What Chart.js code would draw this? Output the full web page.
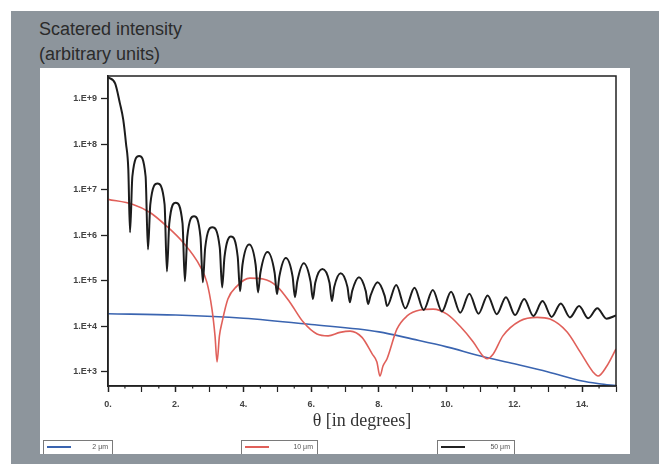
<!DOCTYPE html>
<html>
<head>
<meta charset="utf-8">
<script src="https://cdn.jsdelivr.net/npm/chart.js@4.4.1/dist/chart.umd.min.js"></script>
<style>
  html, body { margin: 0; padding: 0; background: #fff; }
  body { width: 659px; height: 464px; position: relative; overflow: hidden; font-family: "Liberation Sans", Arial, sans-serif; }
  #frame { position: absolute; left: 11px; top: 11px; right: 0; bottom: 0; background: #8d959c; }
  #panel { position: absolute; left: 40px; top: 68px; width: 590px; height: 386px; background: #fff; }
  #ytitle { position: absolute; left: 39px; top: 17px; font-size: 18px; line-height: 25px; color: #2b2b2b; }
  #chart { position: absolute; left: 0; top: 0; }
  #xtitle { position: absolute; left: 108px; width: 508px; top: 410px; text-align: center;
            font-family: "Liberation Serif", "DejaVu Serif", serif; font-size: 18px; line-height: 20px; color: #333; }
  .leg { position: absolute; top: 440px; height: 14px; border: 1px solid #7a7a7a; border-bottom: none;
         box-sizing: border-box; font-size: 7px; color: #555; }
  .leg i { position: absolute; left: 3px; top: 5px; width: 24px; height: 0; border-top: 2px solid; }
  .leg span { position: absolute; right: 4px; top: 2px; }
</style>
</head>
<body>
<div id="frame"></div>
<div id="panel"></div>
<div id="ytitle">Scatered intensity<br>(arbitrary units)</div>
<canvas id="chart" width="659" height="464"></canvas>
<div id="xtitle">θ [in degrees]</div>
<div class="leg" style="left:43px;width:70px"><i style="border-color:#3a64b0"></i><span>2 μm</span></div>
<div class="leg" style="left:241px;width:77px"><i style="border-color:#e0605a"></i><span>10 μm</span></div>
<div class="leg" style="left:437px;width:78px"><i style="border-color:#222"></i><span>50 μm</span></div>

<script>
// 50 um particle - many fringes
const theta50 = [0, 0.21, 0.35, 0.45, 0.53, 0.60, 0.65,
    0.72, 0.92, 1.11, 1.18, 1.25, 1.46, 1.67, 1.74, 1.81, 2.00, 2.20, 2.27,
    2.34, 2.54, 2.73, 2.80, 2.87, 3.08, 3.30, 3.37, 3.44, 3.63, 3.83, 3.90,
    3.97, 4.17, 4.36, 4.43, 4.50, 4.71, 4.92, 4.99, 5.06, 5.25, 5.45, 5.52,
    5.59, 5.78, 5.98, 6.05, 6.12, 6.33, 6.54, 6.61, 6.68, 6.87, 7.07, 7.14,
    7.21, 7.41, 7.61, 7.68, 7.75, 7.96, 8.17, 8.24,
    8.51, 8.78, 9.05, 9.32, 9.59, 9.86, 10.13, 10.40, 10.67, 10.94, 11.21, 11.48,
    11.75, 12.02, 12.29, 12.56, 12.83, 13.10, 13.37, 13.64, 13.91, 14.18, 14.45, 14.72, 15.00];
const int50 = [3.0e9, 2.2e9, 8.1e8, 3.5e8, 1.07e8, 2.8e7, 1.17e6,
    2.0e7, 5.6e7, 2.0e7, 4.9e5, 4.9e6, 1.38e7, 4.9e6, 1.62e5, 1.86e6, 5.25e6, 1.86e6, 9.8e4,
    9.3e5, 2.63e6, 9.3e5, 9.3e4, 5.4e5, 1.51e6, 5.4e5, 7.2e4, 3.4e5, 9.5e5, 3.4e5, 5.9e4,
    2.24e5, 6.3e5, 2.24e5, 5.6e4, 1.51e5, 4.3e5, 1.51e5, 5.1e4, 1.26e5, 3.2e5, 1.26e5, 4.4e4,
    9.8e4, 2.45e5, 9.8e4, 4.0e4, 9.1e4, 1.82e5, 9.1e4, 3.6e4, 7.4e4, 1.48e5, 7.4e4, 3.4e4,
    6.0e4, 1.2e5, 6.0e4, 3.1e4, 4.7e4, 9.3e4, 4.7e4, 2.8e4,
    8.1e4, 2.5e4, 7.1e4, 2.3e4, 6.3e4, 2.14e4, 5.75e4, 2.0e4, 5.25e4, 1.91e4, 4.8e4, 1.86e4,
    4.4e4, 1.78e4, 4.0e4, 1.7e4, 3.6e4, 1.62e4, 3.2e4, 1.58e4, 2.8e4, 1.51e4, 2.5e4, 1.48e4, 1.74e4];

// 10 um particle
const theta10 = [0, 0.74, 1.24, 1.74, 2.21, 2.72, 2.92, 3.07, 3.16, 3.22, 3.29, 3.37,
    3.54, 3.80, 4.19, 4.58, 4.99, 5.37, 5.76, 6.17, 6.50, 6.85, 7.15, 7.50, 7.80, 7.94,
    8.03, 8.12, 8.24, 8.53, 8.83, 9.21, 9.60, 10.01, 10.39, 10.78, 11.07, 11.19, 11.37,
    11.66, 12.16, 12.67, 13.05, 13.55, 13.94, 14.32, 14.47, 14.73, 15.00];
const int10 = [6.2e6, 4.8e6, 3.2e6, 1.58e6, 7.1e5, 2.1e5, 9.3e4, 2.4e4, 6.2e3, 1.66e3, 6.2e3, 1.26e4,
    4.0e4, 7.6e4, 1.15e5, 1.1e5, 7.6e4, 3.4e4, 1.26e4, 6.8e3, 6.2e3, 7.4e3, 7.9e3, 5.75e3, 2.5e3, 1.66e3,
    8.1e2, 1.35e3, 1.95e3, 8.7e3, 1.7e4, 2.3e4, 2.4e4, 1.86e4, 1.02e4, 4.6e3, 2.24e3, 1.95e3, 2.45e3,
    6.2e3, 1.32e4, 1.58e4, 1.45e4, 7.6e3, 2.75e3, 1.0e3, 8.1e2, 1.35e3, 3.2e3];

// 2 um particle
const theta2 = [0, 2, 4, 6, 8, 9, 10, 11, 12, 13, 14, 14.5, 15];
const int2 = [1.9e4, 1.78e4, 1.51e4, 1.1e4, 7.6e3, 5.25e3, 3.55e3, 2.24e3, 1.51e3, 1.0e3, 6.3e2, 5.5e2, 5.0e2];

const yTickValues = [1e3, 1e4, 1e5, 1e6, 1e7, 1e8, 1e9];
const yTickLabels = ['1.E+3', '1.E+4', '1.E+5', '1.E+6', '1.E+7', '1.E+8', '1.E+9'];
const xMajor = [0, 2, 4, 6, 8, 10, 12, 14];
const xTickLabels = ['0.', '2.', '4.', '6.', '8.', '10.', '12.', '14.'];

const pts = (xs, ys) => xs.map((v, i) => ({ x: v, y: ys[i] }));

// frame box + small half-degree ticks
const frameBox = {
    id: 'frameBox',
    afterDraw(chart) {
        const { ctx, chartArea: a, scales: { x } } = chart;
        ctx.save();
        ctx.strokeStyle = '#222';
        ctx.lineWidth = 1.5;
        ctx.strokeRect(a.left, a.top, a.right - a.left, a.bottom - a.top);
        ctx.lineWidth = 1.2;
        x.ticks.forEach(t => {
            if (t.value % 1 !== 0) {
                const px = x.getPixelForValue(t.value);
                ctx.beginPath();
                ctx.moveTo(px, a.bottom);
                ctx.lineTo(px, a.bottom + 2.5);
                ctx.stroke();
            }
        });
        ctx.restore();
    }
};

const tickFont = { family: 'Liberation Sans', size: 9, weight: 'bold' };

new Chart(document.getElementById('chart'), {
    type: 'line',
    data: {
        datasets: [
            { label: '50 μm', data: pts(theta50, int50), borderColor: '#1c1c1c', borderWidth: 2,
              pointRadius: 0, cubicInterpolationMode: 'monotone' },
            { label: '10 μm', data: pts(theta10, int10), borderColor: '#e0605a', borderWidth: 1.6,
              pointRadius: 0, cubicInterpolationMode: 'monotone' },
            { label: '2 μm', data: pts(theta2, int2), borderColor: '#3a64b0', borderWidth: 1.6,
              pointRadius: 0, cubicInterpolationMode: 'monotone' }
        ]
    },
    options: {
        responsive: false,
        animation: false,
        layout: { padding: { left: 40, right: 43, top: 76, bottom: 0 } },
        plugins: { legend: { display: false }, tooltip: { enabled: false } },
        scales: {
            x: {
                type: 'linear',
                min: 0,
                max: 15,
                afterFit(scale) { scale.height = 78; },
                border: { color: '#222', width: 1.5 },
                grid: {
                    drawOnChartArea: false,
                    tickLength: 6,
                    tickColor: c => (c.tick && c.tick.value % 1 === 0 ? '#222' : 'rgba(0,0,0,0)'),
                    tickWidth: c => (c.tick && c.tick.value % 2 === 0 ? 1.5 : 1.2)
                },
                ticks: {
                    stepSize: 0.5,
                    autoSkip: false,
                    maxRotation: 0,
                    padding: 7,
                    color: '#444',
                    font: tickFont,
                    callback: v => {
                        const i = xMajor.indexOf(v);
                        return i >= 0 ? xTickLabels[i] : '';
                    }
                }
            },
            y: {
                type: 'logarithmic',
                min: 490,
                max: 3.2e9,
                afterFit(scale) { scale.width = 68; },
                afterBuildTicks(scale) { scale.ticks = yTickValues.map(v => ({ value: v })); },
                border: { color: '#222', width: 1.5 },
                grid: { drawOnChartArea: false, tickLength: 7, tickColor: '#222', tickWidth: 1.3 },
                ticks: {
                    padding: 4,
                    color: '#444',
                    font: tickFont,
                    callback: v => {
                        const i = yTickValues.indexOf(v);
                        return i >= 0 ? yTickLabels[i] : '';
                    }
                }
            }
        }
    },
    plugins: [frameBox]
});
</script>
</body>
</html>
